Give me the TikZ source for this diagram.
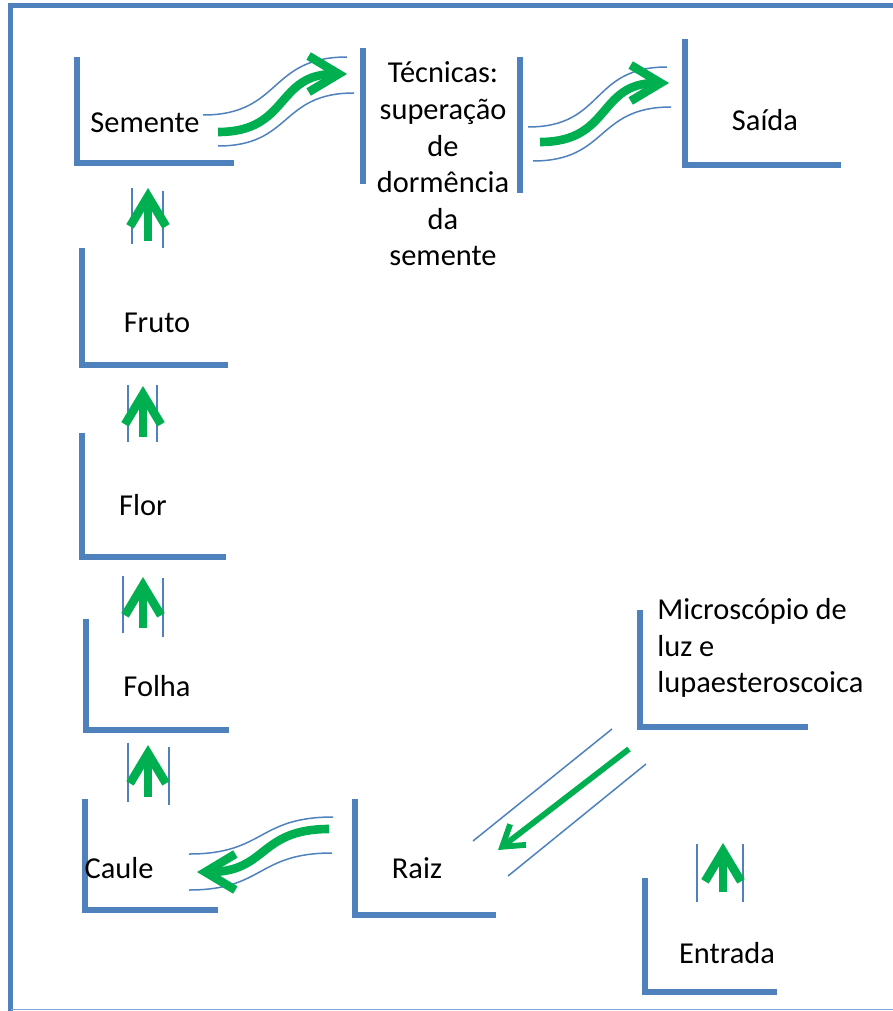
\documentclass[tikz,border=0pt]{standalone}
\usepackage{fontspec}
\setmainfont{Carlito}
\usetikzlibrary{arrows.meta}
\definecolor{brkblue}{HTML}{4F81BD}
\definecolor{edgeblue}{HTML}{7FA7D8}
\definecolor{flowgreen}{HTML}{00B050}
\tikzset{brk/.style={draw=brkblue,line width=2.6pt}}
\tikzset{guide/.style={draw=brkblue,line width=0.75pt}}
\tikzset{flow/.style={draw=flowgreen,line width=4.3pt,-{Straight Barb[length=15pt,width=18pt]}}}
\tikzset{slim/.style={draw=flowgreen,line width=2.9pt,-{Straight Barb[length=10pt,width=13pt]}}}
\tikzset{wave/.style={looseness=1.3}}
\tikzset{lbl/.style={inner sep=0pt,font=\fontsize{15.2}{18.3}\selectfont}}

\begin{document}
\begin{tikzpicture}[x=0.5pt,y=-0.5pt]
    \useasboundingbox (0,0) rectangle (893,1011);
    % frame
    \draw[brk,line width=2.5pt] (8,6) -- (893,6);
    \draw[brk,line width=2.5pt] (10.5,4) -- (10.5,1011);
    \draw[draw=edgeblue,line width=0.8pt] (10.5,1009.5) -- (893,1009.5);
    % brackets
    \draw[brk] (77,57) |- (234,163);
    \draw[brk] (363,48) -- (363,184);
    \draw[brk] (520,57) -- (520,193);
    \draw[brk] (685,39) |- (841,165);
    \draw[brk] (82,248) |- (228,365);
    \draw[brk] (82,433) |- (226,557);
    \draw[brk] (86,619) |- (229,730);
    \draw[brk] (85,799) |- (218,910);
    \draw[brk] (355,799) |- (496,915);
    \draw[brk] (640,610) |- (808,727);
    \draw[brk] (645,878) |- (777,992);
    % labels
    \node[lbl] (sem) at (145,123) {Semente};
    \node[lbl,align=center] (tec) at (443,164) {Técnicas:\\superação\\de\\dormência\\da\\semente};
    \node[lbl] (sai) at (765,120) {Saída};
    \node[lbl] (fru) at (157,323) {Fruto};
    \node[lbl] (flo) at (143,505) {Flor};
    \node[lbl] (fol) at (157,686) {Folha};
    \node[lbl] (cau) at (119,868) {Caule};
    \node[lbl] (rai) at (417,868) {Raiz};
    \node[lbl,align=left,anchor=west] (mic) at (657,648) {Microscópio de\\luz e\\lupaesteroscoica};
    \node[lbl] (ent) at (727,953) {Entrada};
    % arrow ends
    \coordinate (sem-out) at (218,132);
    \coordinate (tec-in) at (347,74);
    \coordinate (tec-out) at (540,142);
    \coordinate (sai-in) at (669,83);
    \coordinate (rai-out) at (329,829);
    \coordinate (cau-in) at (197,872);
    \coordinate (mic-out) at (629,749);
    \coordinate (rai-in) at (498,850);
    \coordinate (fru-out) at (148,241);
    \coordinate (sem-in) at (148,188);
    \coordinate (flo-out) at (143,437);
    \coordinate (fru-in) at (143,386);
    \coordinate (fol-out) at (143,628);
    \coordinate (flo-in) at (143,577);
    \coordinate (cau-out) at (148,797);
    \coordinate (fol-in) at (148,745);
    \coordinate (ent-out) at (723,892);
    \coordinate (ent-in) at (723,843);
    % guides
    \draw[guide] (203,115) to[out=0,in=180,wave] (347,57);
    \draw[guide] (218,146) to[out=0,in=180,wave] (354,93);
    \draw[guide] (528,127) to[out=0,in=180,wave] (667,67);
    \draw[guide] (533,161) to[out=0,in=180,wave] (671,107);
    \draw[guide] (333,817) to[out=180,in=0,wave] (189,854);
    \draw[guide] (332,853) to[out=180,in=0,wave] (189,890);
    \draw[guide] (473,841) -- (612,729);
    \draw[guide] (508,876) -- (646,764);
    \draw[guide] (132,188) -- (132,244);
    \draw[guide] (163,191) -- (163,248);
    \draw[guide] (128,385) -- (128,442);
    \draw[guide] (157,385) -- (157,442);
    \draw[guide] (123,576) -- (123,633);
    \draw[guide] (163,578) -- (163,637);
    \draw[guide] (128,743) -- (128,802);
    \draw[guide] (169,747) -- (169,805);
    \draw[guide] (697,844) -- (697,902);
    \draw[guide] (743,844) -- (743,902);
    % arrows
    \draw[flow] (sem-out) to[out=0,in=180,wave] (tec-in);
    \draw[flow] (tec-out) to[out=0,in=180,wave] (sai-in);
    \draw[flow] (rai-out) to[out=180,in=0,wave] (cau-in);
    \draw[slim] (mic-out) -- (rai-in);
    \draw[flow] (fru-out) -- (sem-in);
    \draw[flow] (flo-out) -- (fru-in);
    \draw[flow] (fol-out) -- (flo-in);
    \draw[flow] (cau-out) -- (fol-in);
    \draw[flow] (ent-out) -- (ent-in);
\end{tikzpicture}
\end{document}
